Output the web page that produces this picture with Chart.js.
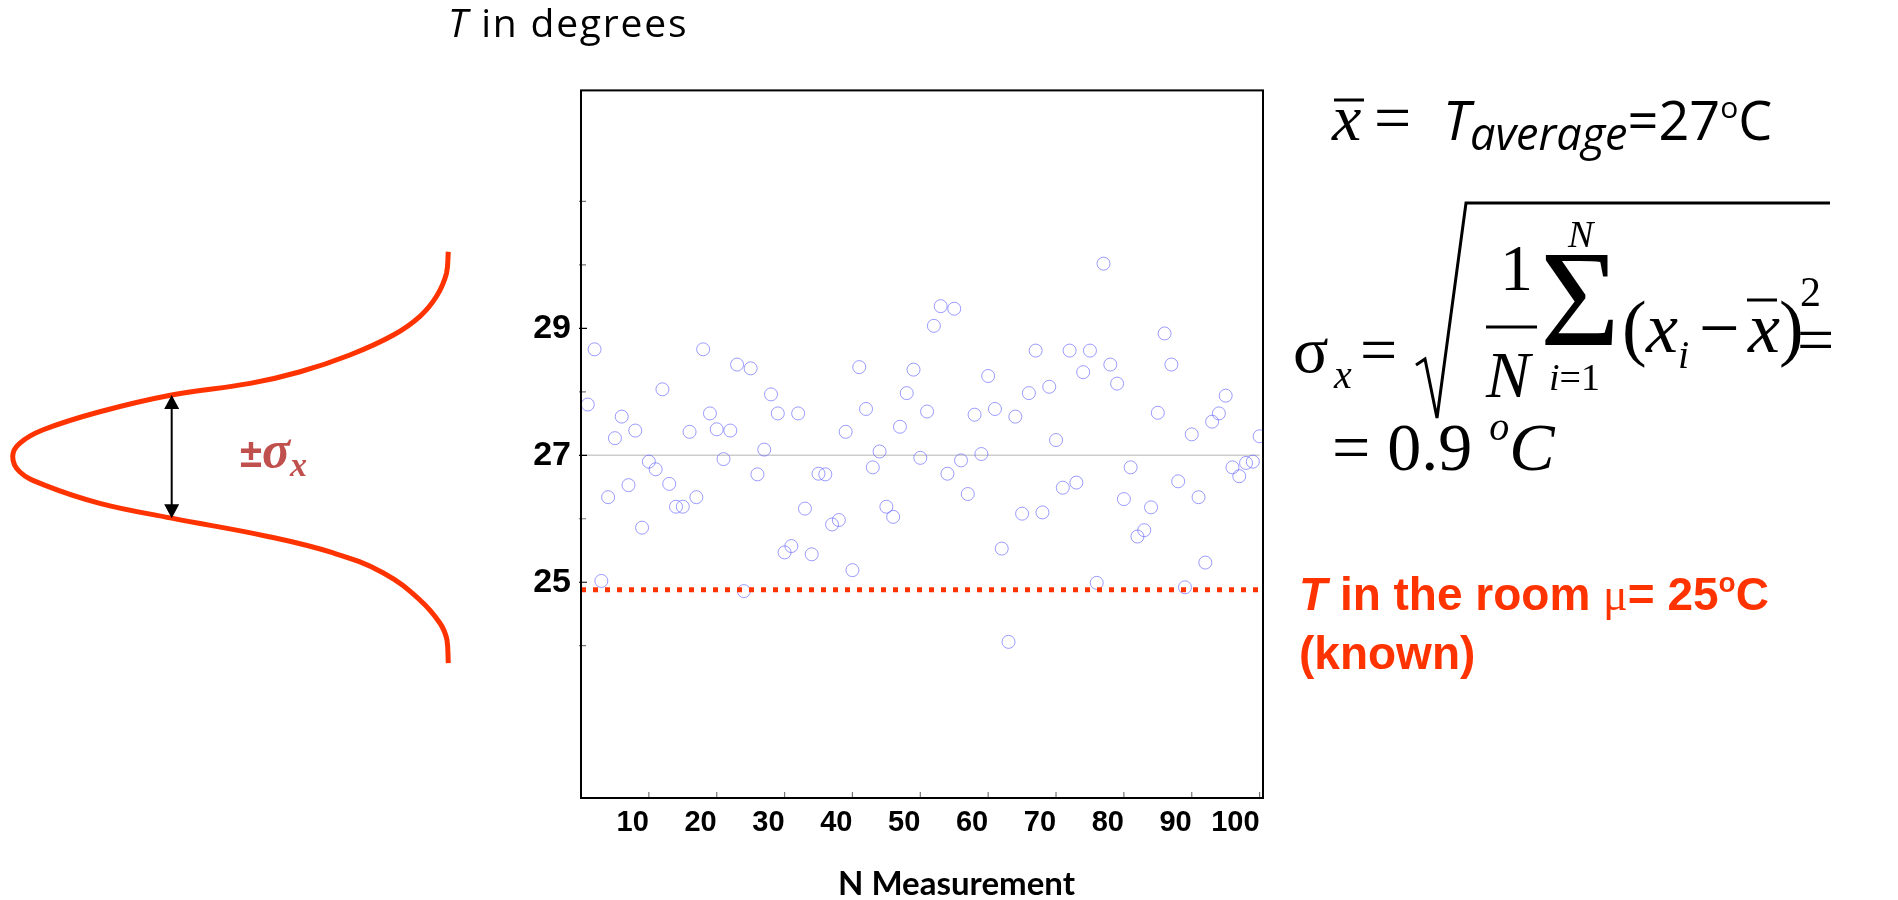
<!DOCTYPE html>
<html>
<head>
<meta charset="utf-8">
<script src="https://cdn.jsdelivr.net/npm/chart.js@4.4.1/dist/chart.umd.min.js"></script>
<style>
  body { margin: 0; background: #fff; width: 1898px; height: 900px; overflow: hidden; position: relative; }
  #left { position: absolute; left: 0; top: 60px; width: 480px; height: 840px; }
  #main { position: absolute; left: 480px; top: 60px; width: 800px; height: 840px; }
  svg { position: absolute; left: 0; top: 0; pointer-events: none; }
</style>
</head>
<body>
<div id="left"><canvas id="gauss"></canvas></div>
<div id="main"><canvas id="scatter"></canvas></div>

<svg width="1898" height="900">
  <!-- axis titles -->
  <text x="448" y="37" font-family="Open Sans" font-size="39" letter-spacing="1.8"><tspan font-style="italic">T</tspan> in degrees</text>
  <text x="838" y="895" font-family="Lato" font-weight="bold" font-size="33">N Measurement</text>

  <!-- sigma label on the bell curve -->
  <text x="240" y="467" fill="#c0504d" font-family="Liberation Sans" font-weight="bold" font-size="40">±<tspan font-family="Liberation Serif" font-style="italic" font-size="52">σ</tspan><tspan font-family="Liberation Serif" font-style="italic" font-size="34" dy="9">x</tspan></text>

  <!-- x bar = T average -->
  <text x="1332" y="140" font-family="Liberation Serif" font-style="italic" font-size="66">x</text>
  <line x1="1334" y1="100" x2="1364" y2="100" stroke="#000" stroke-width="3"/>
  <text x="1374" y="140" font-family="Liberation Serif" font-size="66">=</text>
  <text x="1443" y="140" font-family="Open Sans" font-size="54"><tspan font-style="italic">T</tspan><tspan font-style="italic" font-size="45" dy="10">average</tspan><tspan dy="-10">=27</tspan><tspan font-size="30" dy="-22">o</tspan><tspan dy="22">C</tspan></text>

  <!-- sigma formula -->
  <g font-family="Liberation Serif" font-size="66">
    <text x="1293" y="372">σ</text>
    <text x="1334" y="388" font-style="italic" font-size="40">x</text>
    <text x="1360" y="372">=</text>
    <polyline points="1416,365 1425,359 1437,418 1466,203 1830,203" fill="none" stroke="#000" stroke-width="3"/>
    <text x="1500" y="290">1</text>
    <line x1="1486" y1="327" x2="1537" y2="327" stroke="#000" stroke-width="3"/>
    <text x="1486" y="397" font-style="italic">N</text>
    <text x="1540" y="345" font-size="137">Σ</text>
    <text x="1568" y="247" font-style="italic" font-size="38">N</text>
    <text x="1549" y="390" font-size="38"><tspan font-style="italic">i</tspan>=1</text>
    <text x="1622" y="352" font-size="74">(</text>
    <text x="1646" y="352" font-style="italic" font-size="72">x</text>
    <text x="1678" y="368" font-style="italic" font-size="40">i</text>
    <text x="1699" y="352" font-size="72">−</text>
    <text x="1748" y="352" font-style="italic" font-size="72">x</text>
    <line x1="1747" y1="300" x2="1777" y2="300" stroke="#000" stroke-width="3"/>
    <text x="1779" y="352" font-size="74">)</text>
    <text x="1800" y="306" font-size="42">2</text>
    <text x="1797" y="362">=</text>
    <text x="1332" y="470" font-size="68">= 0.9 <tspan font-style="italic" font-size="40" dy="-30">o</tspan><tspan font-style="italic" dy="30">C</tspan></text>
  </g>

  <!-- known room temperature -->
  <g fill="#ff3300" font-family="Liberation Sans" font-weight="bold" font-size="46">
    <text x="1299" y="610"><tspan font-style="italic">T</tspan> in the room <tspan font-family="Liberation Serif" font-weight="normal">μ</tspan>= 25<tspan font-size="28" dy="-18">o</tspan><tspan dy="18">C</tspan></text>
    <text x="1299" y="669">(known)</text>
  </g>
</svg>

<script>
const measurementNo = Array.from({ length: 100 }, (_, i) => i + 1);
const temperatures = [
  27.80, 28.67, 25.02, 26.34, 27.27, 27.61, 26.53, 27.39, 25.86, 26.90,
  26.78, 28.04, 26.55, 26.19, 26.19, 27.37, 26.34, 28.67, 27.66, 27.41,
  26.94, 27.39, 28.43, 24.86, 28.37, 26.70, 27.09, 27.96, 27.66, 25.47,
  25.57, 27.66, 26.16, 25.44, 26.71, 26.70, 25.91, 25.98, 27.37, 25.19,
  28.39, 27.73, 26.81, 27.06, 26.19, 26.03, 27.45, 27.98, 28.35, 26.96,
  27.69, 29.04, 29.35, 26.71, 29.31, 26.92, 26.39, 27.64, 27.02, 28.25,
  27.73, 25.53, 24.06, 27.61, 26.08, 27.98, 28.65, 26.10, 28.08, 27.24,
  26.49, 28.65, 26.57, 28.31, 28.65, 24.99, 30.02, 28.43, 28.13, 26.31,
  26.81, 25.72, 25.82, 26.18, 27.67, 28.92, 28.43, 26.59, 24.92, 27.33,
  26.34, 25.31, 27.53, 27.66, 27.94, 26.81, 26.67, 26.88, 26.90, 27.30
];
const meanT = 27;
const roomT = 24.88;
const xTickVals = [10, 20, 30, 40, 50, 60, 70, 80, 90, 100];
const yLabelVals = [25, 27, 29];
const yMinorVals = [24, 26, 28, 30, 31];

// bell curve drawn beside the plot: relative density vs temperature
const curveT = [30.07, 29.74, 29.38, 29.07, 28.78, 28.47, 28.21, 28.03, 27.85, 27.59, 27.31, 27.10, 26.90,
                26.66, 26.46, 26.17, 25.94, 25.66, 25.40, 25.09, 24.67, 24.31, 24.05, 23.69];
const curveD = [0.000, 0.004, 0.027, 0.065, 0.126, 0.226, 0.340, 0.455, 0.635, 0.800, 0.930, 0.984, 1.000,
                0.984, 0.930, 0.800, 0.635, 0.417, 0.264, 0.149, 0.065, 0.019, 0.003, 0.000];
const arrowD = 0.635;
const arrowT = [27.85, 25.94];

const tMin = 21.6, tMax = 32.75;

const frameTicks = {
  id: 'frameTicks',
  afterDatasetsDraw(chart) {
    const { ctx, chartArea: a, scales: { x, y } } = chart;
    ctx.save();
    ctx.strokeStyle = '#777';
    ctx.lineWidth = 1.2;
    ctx.beginPath();
    xTickVals.forEach(v => {
      const px = x.getPixelForValue(v);
      ctx.moveTo(px, a.bottom);
      ctx.lineTo(px, a.bottom - 6);
    });
    yMinorVals.forEach(v => {
      const py = y.getPixelForValue(v);
      ctx.moveTo(a.left - 2, py);
      ctx.lineTo(a.left + 5, py);
    });
    ctx.stroke();
    ctx.strokeStyle = '#000';
    ctx.beginPath();
    yLabelVals.forEach(v => {
      const py = y.getPixelForValue(v);
      ctx.moveTo(a.left - 2, py);
      ctx.lineTo(a.left + 6, py);
    });
    ctx.stroke();
    ctx.lineWidth = 2;
    ctx.strokeRect(a.left, a.top, a.right - a.left, a.bottom - a.top);
    ctx.restore();
  }
};

new Chart(document.getElementById('scatter'), {
  type: 'scatter',
  data: {
    datasets: [
      {
        data: [{ x: 0, y: roomT }, { x: 100, y: roomT }],
        showLine: true,
        borderColor: '#ff3300',
        borderWidth: 5,
        borderDash: [5, 7],
        borderCapStyle: 'butt',
        pointRadius: 0
      },
      {
        data: measurementNo.map((n, i) => ({ x: n, y: temperatures[i] })),
        pointStyle: 'circle',
        pointRadius: 6.5,
        pointBorderWidth: 1,
        pointBorderColor: 'rgba(90, 90, 255, 0.6)',
        pointBackgroundColor: 'rgba(0, 0, 0, 0)'
      },
      {
        data: [{ x: 0, y: meanT }, { x: 100, y: meanT }],
        showLine: true,
        borderColor: '#cccccc',
        borderWidth: 1.5,
        pointRadius: 0
      }
    ]
  },
  options: {
    responsive: true,
    maintainAspectRatio: false,
    animation: false,
    layout: { padding: { top: 19, right: 17, left: 0, bottom: 0 } },
    plugins: { legend: { display: false }, tooltip: { enabled: false } },
    scales: {
      x: {
        type: 'linear',
        min: 0,
        max: 100.5,
        afterBuildTicks: s => { s.ticks = xTickVals.map(v => ({ value: v })); },
        afterFit: s => { s.height = 102; },
        grid: { display: false, drawTicks: false },
        border: { display: false },
        ticks: {
          align: 'end',
          padding: 8,
          color: '#000',
          font: { family: 'Liberation Sans', weight: 'bold', size: 29 }
        }
      },
      y: {
        min: tMin,
        max: tMax,
        afterBuildTicks: s => { s.ticks = yLabelVals.map(v => ({ value: v })); },
        afterFit: s => { s.width = 101; },
        grid: { display: false, drawTicks: false },
        border: { display: false },
        ticks: {
          padding: 10,
          color: '#000',
          font: { family: 'Liberation Sans', weight: 'bold', size: 34 }
        }
      }
    }
  },
  plugins: [frameTicks]
});

const sigmaArrow = {
  id: 'sigmaArrow',
  afterDatasetsDraw(chart) {
    const { ctx, scales: { x, y } } = chart;
    const px = x.getPixelForValue(arrowD);
    const top = y.getPixelForValue(arrowT[0]);
    const bot = y.getPixelForValue(arrowT[1]);
    ctx.save();
    ctx.strokeStyle = '#000';
    ctx.fillStyle = '#000';
    ctx.lineWidth = 2;
    ctx.beginPath();
    ctx.moveTo(px, top + 10);
    ctx.lineTo(px, bot - 10);
    ctx.stroke();
    ctx.beginPath();
    ctx.moveTo(px, top);
    ctx.lineTo(px - 7.5, top + 14);
    ctx.lineTo(px + 7.5, top + 14);
    ctx.closePath();
    ctx.moveTo(px, bot);
    ctx.lineTo(px - 7.5, bot - 14);
    ctx.lineTo(px + 7.5, bot - 14);
    ctx.closePath();
    ctx.fill();
    ctx.restore();
  }
};

new Chart(document.getElementById('gauss'), {
  type: 'scatter',
  data: {
    datasets: [{
      data: curveT.map((t, i) => ({ x: curveD[i], y: t })),
      showLine: true,
      borderColor: '#ff3300',
      borderWidth: 5,
      tension: 0.4,
      pointRadius: 0,
      clip: false
    }]
  },
  options: {
    responsive: true,
    maintainAspectRatio: false,
    animation: false,
    layout: { padding: { left: 12.7, right: 31.7, top: 19, bottom: 102 } },
    plugins: { legend: { display: false }, tooltip: { enabled: false } },
    scales: {
      x: { type: 'linear', min: 0, max: 1, reverse: true, display: false },
      y: { min: tMin, max: tMax, display: false }
    }
  },
  plugins: [sigmaArrow]
});
</script>
</body>
</html>
